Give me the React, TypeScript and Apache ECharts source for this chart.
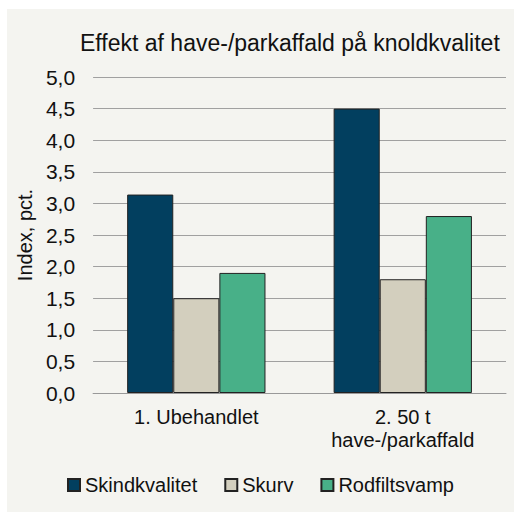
import React, { useEffect, useRef } from "react";
import * as echarts from "echarts";

const titleText = "Effekt af have-/parkaffald på knoldkvalitet";
const categories = ["1. Ubehandlet", "2. 50 t\nhave-/parkaffald"];
const seriesNames = ["Skindkvalitet", "Skurv", "Rodfiltsvamp"];
const skindkvalitet = [3.14, 4.5];
const skurv = [1.5, 1.8];
const rodfiltsvamp = [1.9, 2.8];
const colors = ["#023f5f", "#d3cfbe", "#48b088"];
const yAxisName = "Index, pct.";

export default function App() {
  const ref = useRef<HTMLDivElement>(null);
  useEffect(() => {
    if (!ref.current) return;
    const chart = echarts.init(ref.current, null, { renderer: "svg" });
    const font = "'Liberation Sans', Arial, sans-serif";
    const values = [skindkvalitet, skurv, rodfiltsvamp];
    chart.setOption({
      animation: false,
      backgroundColor: "#f4f4f0",
      textStyle: { fontFamily: font },
      title: {
        text: titleText,
        left: 68,
        top: 17,
        textStyle: { fontFamily: font, fontSize: 23, fontWeight: "normal", color: "#111" },
      },
      legend: {
        bottom: 12,
        left: "center",
        itemWidth: 12,
        itemHeight: 12,
        itemGap: 27,
        icon: "rect",
        textStyle: { fontFamily: font, fontSize: 20, color: "#111" },
        data: seriesNames,
      },
      grid: { left: 86, right: 8, top: 68, bottom: 119, containLabel: false },
      xAxis: {
        type: "category",
        data: categories,
        axisTick: { show: false },
        axisLine: { lineStyle: { color: "#999", width: 1 } },
        axisLabel: {
          fontFamily: font,
          fontSize: 20,
          color: "#111",
          margin: 12,
          lineHeight: 23,
        },
      },
      yAxis: {
        type: "value",
        min: 0,
        max: 5,
        interval: 0.5,
        name: yAxisName,
        nameLocation: "middle",
        nameGap: 51,
        nameRotate: 90,
        nameTextStyle: { fontFamily: font, fontSize: 20, color: "#111" },
        axisLine: { show: false },
        axisTick: { show: false },
        splitLine: { lineStyle: { color: "#a0a0a0", width: 1 } },
        axisLabel: {
          fontFamily: font,
          fontSize: 21,
          color: "#111",
          margin: 18,
          formatter: (v: number) => v.toFixed(1).replace(".", ","),
        },
      },
      series: seriesNames.map((name, i) => ({
        name,
        type: "bar",
        data: values[i],
        barGap: "0%",
        barCategoryGap: "33%",
        itemStyle: { color: colors[i], borderColor: "#222", borderWidth: 1 },
      })),
    });
    return () => chart.dispose();
  }, []);
  return (
    <div
      ref={ref}
      style={{ position: "absolute", left: 7, top: 9, width: 507, height: 503 }}
    />
  );
}
